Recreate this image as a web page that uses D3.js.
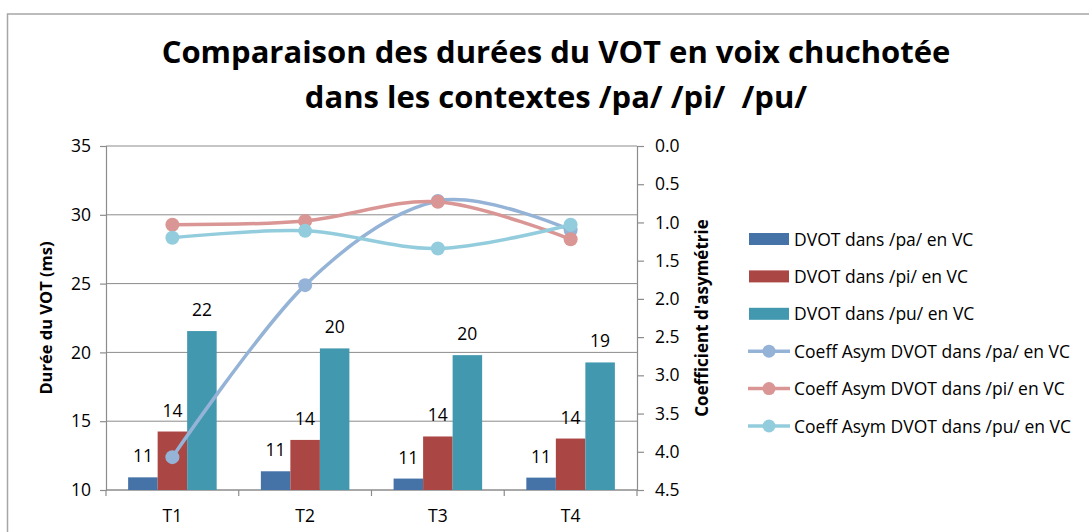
<!DOCTYPE html>
<html>
<head>
<meta charset="utf-8">
<script src="https://cdn.jsdelivr.net/npm/d3@7"></script>
<style>
  body { margin: 0; background: #fff; }
  svg { display: block; font-family: "Open Sans", sans-serif; }
</style>
</head>
<body>
<svg id="chart"></svg>
<script>
// categories and values
var categories = ["T1", "T2", "T3", "T4"];
var dvotPa = [10.92, 11.36, 10.83, 10.9];
var dvotPi = [14.25, 13.64, 13.89, 13.74];
var dvotPu = [21.55, 20.29, 19.8, 19.27];
var asymPa = [4.07, 1.82, 0.72, 1.1];
var asymPi = [1.03, 0.98, 0.73, 1.22];
var asymPu = [1.2, 1.11, 1.34, 1.03];
var leftTicks = [10, 15, 20, 25, 30, 35];
var rightTicks = [0, 0.5, 1, 1.5, 2, 2.5, 3, 3.5, 4, 4.5];

var barSeries = [
  {name: "DVOT dans /pa/ en VC", values: dvotPa, color: "#4572A7"},
  {name: "DVOT dans /pi/ en VC", values: dvotPi, color: "#AA4643"},
  {name: "DVOT dans /pu/ en VC", values: dvotPu, color: "#4198AF"}
];
var lineSeries = [
  {name: "Coeff Asym DVOT dans /pa/ en VC", values: asymPa, color: "#95B3D7"},
  {name: "Coeff Asym DVOT dans /pi/ en VC", values: asymPi, color: "#D99694"},
  {name: "Coeff Asym DVOT dans /pu/ en VC", values: asymPu, color: "#93CDDD"}
];

var width = 1089, height = 532;
var margin = {top: 146, left: 106, right: 452, bottom: 42};
var plotW = width - margin.left - margin.right,
    plotH = height - margin.top - margin.bottom;
var fs = 17.5;

var svg = d3.select("#chart")
  .attr("width", width)
  .attr("height", height);

// outer frame
svg.append("rect")
  .attr("x", 7.5).attr("y", 14)
  .attr("width", width).attr("height", height)
  .attr("fill", "none")
  .attr("stroke", "#a6a6a6")
  .attr("stroke-width", 1.5);

// title
var title = svg.append("text")
  .attr("text-anchor", "middle")
  .attr("font-weight", "bold")
  .attr("font-size", 31)
  .style("white-space", "pre")
  .attr("fill", "#000");
title.append("tspan").attr("x", 556).attr("y", 63)
  .text("Comparaison des durées du VOT en voix chuchotée");
title.append("tspan").attr("x", 556).attr("y", 108)
  .text("dans les contextes /pa/ /pi/  /pu/");

var g = svg.append("g")
  .attr("transform", "translate(" + margin.left + "," + margin.top + ")");

// scales
var x0 = d3.scaleBand().domain(categories).range([0, plotW]).paddingInner(0.333).paddingOuter(0.1667);
var x1 = d3.scaleBand().domain(d3.range(barSeries.length)).range([0, x0.bandwidth()]);
var xCat = d3.scaleBand().domain(categories).range([0, plotW]);
var y = d3.scaleLinear().domain([10, 35]).range([plotH, 0]);
var y2 = d3.scaleLinear().domain([0, 4.5]).range([0, plotH]);

// gridlines
g.append("g")
  .selectAll("line")
  .data(leftTicks)
  .join("line")
  .attr("x1", 0).attr("x2", plotW)
  .attr("y1", function(d) { return y(d); })
  .attr("y2", function(d) { return y(d); })
  .attr("stroke", "#8c8c8c")
  .attr("stroke-width", 1);

// left axis
var yAxis = g.append("g")
  .call(d3.axisLeft(y).tickValues(leftTicks).tickSize(6).tickPadding(9));
// right axis
var y2Axis = g.append("g")
  .attr("transform", "translate(" + plotW + ",0)")
  .call(d3.axisRight(y2).tickValues(rightTicks).tickSize(7).tickPadding(11).tickFormat(d3.format(".1f")));
// bottom axis
var xAxis = g.append("g")
  .attr("transform", "translate(0," + plotH + ")")
  .call(d3.axisBottom(xCat).tickSize(0).tickPadding(20));

[yAxis, y2Axis, xAxis].forEach(function(a) {
  a.select(".domain").attr("stroke", "#8c8c8c").attr("stroke-width", 1.2);
  a.selectAll(".tick line").attr("stroke", "#8c8c8c").attr("stroke-width", 1.2);
  a.selectAll("text").attr("font-size", fs).attr("fill", "#000").attr("font-family", "Open Sans");
});
xAxis.select(".domain").attr("d", "M0,0H" + plotW);

// category boundary ticks on x axis
g.append("g")
  .selectAll("line")
  .data(d3.range(categories.length + 1))
  .join("line")
  .attr("x1", function(i) { return i * xCat.step(); })
  .attr("x2", function(i) { return i * xCat.step(); })
  .attr("y1", plotH).attr("y2", plotH + 6)
  .attr("stroke", "#8c8c8c")
  .attr("stroke-width", 1.2);

// bars
barSeries.forEach(function(s, si) {
  var bars = g.append("g");
  bars.selectAll("rect")
    .data(s.values)
    .join("rect")
    .attr("x", function(d, i) { return x0(categories[i]) + x1(si); })
    .attr("y", function(d) { return y(d); })
    .attr("width", x1.bandwidth())
    .attr("height", function(d) { return plotH - y(d); })
    .attr("fill", s.color);
  bars.selectAll("text")
    .data(s.values)
    .join("text")
    .attr("x", function(d, i) { return x0(categories[i]) + x1(si) + x1.bandwidth() / 2; })
    .attr("y", function(d) { return y(d) - 15; })
    .attr("text-anchor", "middle")
    .attr("font-size", fs)
    .text(function(d) { return Math.round(d); });
});

// smoothed lines (Excel style)
var line = d3.line()
  .x(function(d, i) { return xCat(categories[i]) + xCat.bandwidth() / 2; })
  .y(function(d) { return y2(d); })
  .curve(d3.curveCardinal);

lineSeries.forEach(function(s) {
  var lg = g.append("g");
  lg.append("path")
    .datum(s.values)
    .attr("d", line)
    .attr("fill", "none")
    .attr("stroke", s.color)
    .attr("stroke-width", 3.5);
  lg.selectAll("circle")
    .data(s.values)
    .join("circle")
    .attr("cx", function(d, i) { return xCat(categories[i]) + xCat.bandwidth() / 2; })
    .attr("cy", function(d) { return y2(d); })
    .attr("r", 7)
    .attr("fill", s.color);
});

// axis titles
svg.append("text")
  .attr("transform", "translate(52,318) rotate(-90)")
  .attr("text-anchor", "middle")
  .attr("font-weight", "bold")
  .attr("font-size", 16.5)
  .text("Durée du VOT (ms)");
svg.append("text")
  .attr("transform", "translate(708,318) rotate(-90)")
  .attr("text-anchor", "middle")
  .attr("font-weight", "bold")
  .attr("font-size", 17)
  .text("Coefficient d'asymétrie");

// legend
var legend = svg.append("g").attr("transform", "translate(748,239)");
var items = barSeries.map(function(s) { return {name: s.name, color: s.color, type: "bar"}; })
  .concat(lineSeries.map(function(s) { return {name: s.name, color: s.color, type: "line"}; }));
var li = legend.selectAll("g")
  .data(items)
  .join("g")
  .attr("transform", function(d, i) { return "translate(0," + (i * 37.4) + ")"; });
li.filter(function(d) { return d.type === "bar"; })
  .append("rect")
  .attr("x", 1).attr("y", -6).attr("width", 40).attr("height", 12)
  .attr("fill", function(d) { return d.color; });
li.filter(function(d) { return d.type === "line"; })
  .append("line")
  .attr("x1", 0).attr("x2", 42).attr("y1", 0).attr("y2", 0)
  .attr("stroke", function(d) { return d.color; })
  .attr("stroke-width", 3.5);
li.filter(function(d) { return d.type === "line"; })
  .append("circle")
  .attr("cx", 21).attr("cy", 0).attr("r", 6.5)
  .attr("fill", function(d) { return d.color; });
li.append("text")
  .attr("x", 46).attr("y", 6.5)
  .attr("font-size", fs)
  .text(function(d) { return d.name; });
</script>
</body>
</html>
